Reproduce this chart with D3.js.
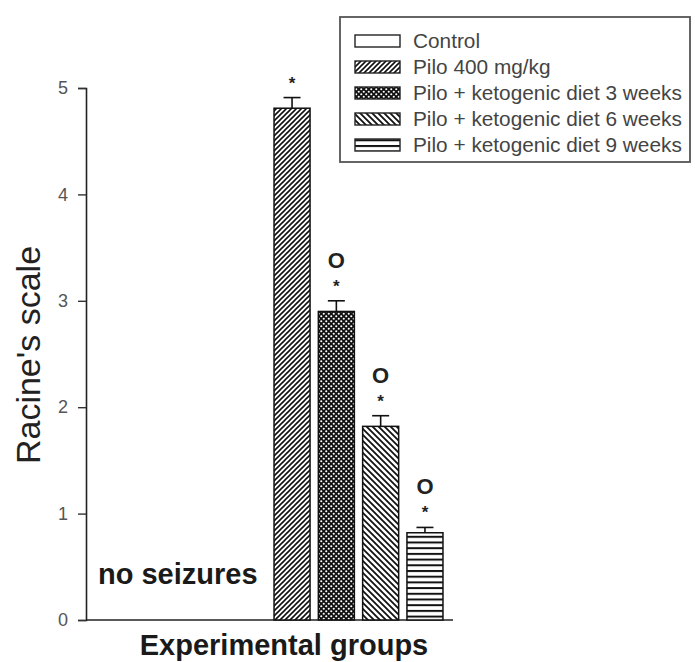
<!DOCTYPE html>
<html>
<head>
<meta charset="utf-8">
<script src="https://cdn.jsdelivr.net/npm/d3@7"></script>
<style>
  html, body { margin: 0; padding: 0; background: #fff; }
  svg { display: block; font-family: "Liberation Sans", Arial, sans-serif; }
</style>
</head>
<body>
<svg id="chart" width="695" height="662"></svg>
<script>
// Seizure severity (Racine's scale) per experimental group
const groups = [
  "Control",
  "Pilo 400 mg/kg",
  "Pilo + ketogenic diet 3 weeks",
  "Pilo + ketogenic diet 6 weeks",
  "Pilo + ketogenic diet 9 weeks"
];
const means = [0, 4.81, 2.90, 1.82, 0.82];
const sems = [0, 0.10, 0.10, 0.10, 0.05];
const starMarks = ["", "*", "*", "*", "*"];
const circleMarks = ["", "", "O", "O", "O"];
const patterns = ["none", "fwd", "dots", "back", "horiz"];
const yTicks = [0, 1, 2, 3, 4, 5];

const svg = d3.select("#chart");
const defs = svg.append("defs");

// Fill patterns for the bars and legend swatches
const pFwd = defs.append("pattern").attr("id", "fwd")
  .attr("patternUnits", "userSpaceOnUse").attr("width", 5).attr("height", 5);
pFwd.append("rect").attr("width", 5).attr("height", 5).attr("fill", "#fff");
pFwd.append("path").attr("d", "M-1,1 l2,-2 M0,5 l5,-5 M4,6 l2,-2")
  .attr("stroke", "#111").attr("stroke-width", 1.6);

const pBack = defs.append("pattern").attr("id", "back")
  .attr("patternUnits", "userSpaceOnUse").attr("width", 6).attr("height", 6);
pBack.append("rect").attr("width", 6).attr("height", 6).attr("fill", "#fff");
pBack.append("path").attr("d", "M-1,5 l2,2 M0,0 l6,6 M5,-1 l2,2")
  .attr("stroke", "#111").attr("stroke-width", 1.8);

const pDots = defs.append("pattern").attr("id", "dots")
  .attr("patternUnits", "userSpaceOnUse").attr("width", 5).attr("height", 5);
pDots.append("rect").attr("width", 5).attr("height", 5).attr("fill", "#111");
pDots.append("circle").attr("cx", 1.25).attr("cy", 1.25).attr("r", 1.05).attr("fill", "#fff");
pDots.append("circle").attr("cx", 3.75).attr("cy", 3.75).attr("r", 1.05).attr("fill", "#fff");

const pHoriz = defs.append("pattern").attr("id", "horiz")
  .attr("patternUnits", "userSpaceOnUse").attr("width", 6).attr("height", 5.7);
pHoriz.append("rect").attr("width", 6).attr("height", 5.7).attr("fill", "#fff");
pHoriz.append("rect").attr("y", 0).attr("width", 6).attr("height", 2).attr("fill", "#111");

const fillFor = p => p === "none" ? "#fff" : `url(#${p})`;

// Scales
const y = d3.scaleLinear().domain([0, 5]).range([620, 88]);
const x = d3.scaleBand().domain(groups)
  .range([225.3, 447.4]).paddingInner(0.187).paddingOuter(0.1);

// Y axis
const yAxis = d3.axisLeft(y).tickValues(yTicks).tickSize(8).tickPadding(10)
  .tickFormat(d3.format("d"));
const gy = svg.append("g").attr("transform", "translate(86,0)").call(yAxis);
gy.select(".domain").attr("stroke", "#222").attr("stroke-width", 1.6);
gy.selectAll(".tick line").attr("stroke", "#333").attr("stroke-width", 1.4);
gy.selectAll(".tick text").attr("fill", "#555").style("font-size", "18px")
  .style("font-family", "Liberation Sans, Arial, sans-serif");

// X axis baseline
svg.append("line").attr("x1", 86).attr("x2", 453)
  .attr("y1", y(0)).attr("y2", y(0))
  .attr("stroke", "#222").attr("stroke-width", 1.6);

// Bars
const data = groups.map((g, i) => ({
  g, mean: means[i], sem: sems[i], star: starMarks[i], circ: circleMarks[i], pat: patterns[i]
}));
const bars = data.filter(d => d.mean > 0);

svg.append("g").selectAll("rect").data(bars).join("rect")
  .attr("x", d => x(d.g))
  .attr("y", d => y(d.mean))
  .attr("width", x.bandwidth())
  .attr("height", d => y(0) - y(d.mean))
  .attr("fill", d => fillFor(d.pat))
  .attr("stroke", "#111").attr("stroke-width", 1.5);

// Error bars (upper only)
const eb = svg.append("g").attr("stroke", "#111").attr("stroke-width", 1.6);
eb.selectAll("line.v").data(bars).join("line").attr("class", "v")
  .attr("x1", d => x(d.g) + x.bandwidth() / 2)
  .attr("x2", d => x(d.g) + x.bandwidth() / 2)
  .attr("y1", d => y(d.mean))
  .attr("y2", d => y(d.mean + d.sem));
eb.selectAll("line.c").data(bars).join("line").attr("class", "c")
  .attr("x1", d => x(d.g) + x.bandwidth() / 2 - 8.5)
  .attr("x2", d => x(d.g) + x.bandwidth() / 2 + 8.5)
  .attr("y1", d => y(d.mean + d.sem))
  .attr("y2", d => y(d.mean + d.sem));

// Significance markers
svg.append("g").selectAll("text").data(bars.filter(d => d.star)).join("text")
  .attr("x", d => x(d.g) + x.bandwidth() / 2)
  .attr("y", d => y(d.mean + d.sem) - 9)
  .attr("text-anchor", "middle")
  .style("font-size", "17px").style("font-weight", "bold").attr("fill", "#222")
  .text(d => d.star);
svg.append("g").selectAll("text").data(bars.filter(d => d.circ)).join("text")
  .attr("x", d => x(d.g) + x.bandwidth() / 2)
  .attr("y", d => y(d.mean + d.sem) - 33)
  .attr("text-anchor", "middle")
  .style("font-size", "22px").style("font-weight", "bold").attr("fill", "#222")
  .text(d => d.circ);

// Control group note
svg.append("text")
  .attr("x", x(groups[0]) + x.bandwidth() / 2 - 70)
  .attr("y", 584)
  .attr("text-anchor", "middle")
  .style("font-size", "29px").style("font-weight", "bold").attr("fill", "#1a1a1a")
  .text("no seizures");

// Axis titles
svg.append("text")
  .attr("transform", "translate(40,355) rotate(-90)")
  .attr("text-anchor", "middle")
  .style("font-size", "34px").attr("fill", "#222")
  .text("Racine's scale");
svg.append("text")
  .attr("x", 284).attr("y", 655)
  .attr("text-anchor", "middle")
  .style("font-size", "29px").style("font-weight", "bold").attr("fill", "#1a1a1a")
  .text("Experimental groups");

// Legend
const lg = svg.append("g");
lg.append("rect").attr("x", 340).attr("y", 17).attr("width", 350).attr("height", 145)
  .attr("fill", "#fff").attr("stroke", "#555").attr("stroke-width", 1.8);
const rows = lg.selectAll("g.row").data(data).join("g").attr("class", "row")
  .attr("transform", (d, i) => `translate(0,${41 + i * 26})`);
rows.append("rect").attr("x", 355).attr("y", -6).attr("width", 45).attr("height", 12)
  .attr("fill", d => fillFor(d.pat)).attr("stroke", "#222").attr("stroke-width", 1.4);
rows.append("text").attr("x", 413).attr("y", 0).attr("dy", "0.35em")
  .style("font-size", "20.8px").attr("fill", "#444")
  .text(d => d.g);
</script>
</body>
</html>
